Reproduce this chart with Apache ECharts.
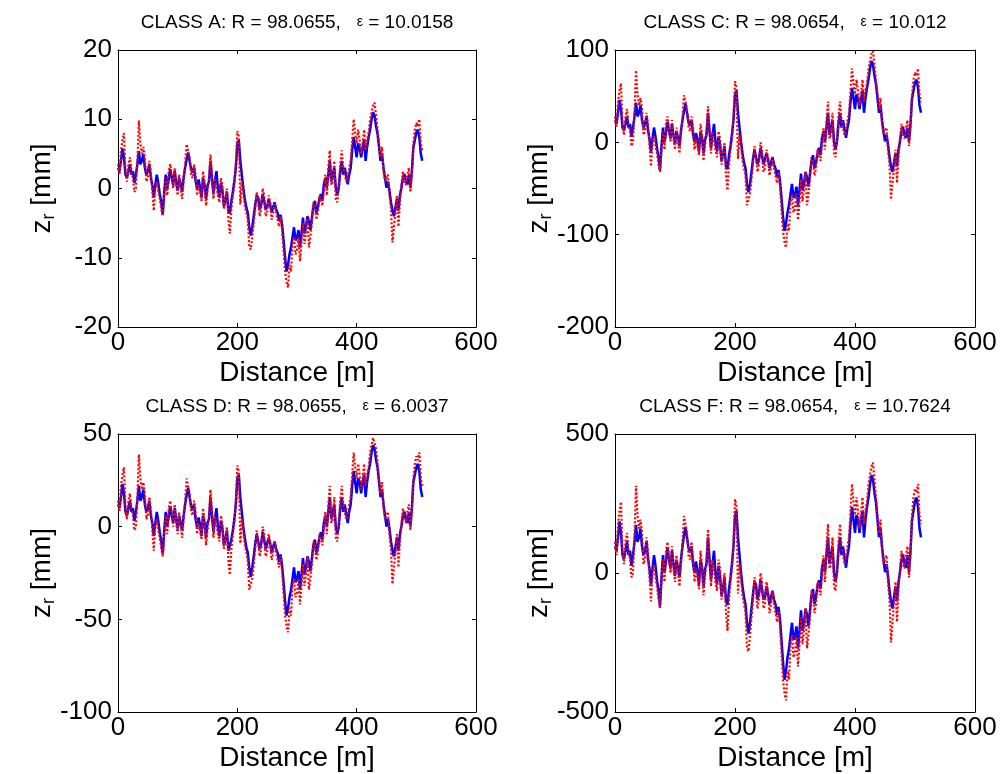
<!DOCTYPE html>
<html>
<head>
<meta charset="utf-8">
<title>Road profile classes</title>
<script src="https://cdn.jsdelivr.net/npm/echarts@6.0.0/dist/echarts.min.js"></script>
<style>
html, body { margin: 0; padding: 0; background: #fff; }
#main { width: 1000px; height: 774px; }
</style>
</head>
<body>
<div id="main"></div>
<script>
// distance along the road [m]
var dist = [0, 5, 10, 15, 20, 25, 30, 35, 40, 45,
    50, 55, 60, 65, 70, 75, 80, 85, 90, 95,
    100, 105, 110, 115, 120, 125, 130, 135, 140, 145,
    150, 155, 160, 165, 170, 175, 180, 185, 190, 195,
    200, 205, 210, 215, 220, 225, 230, 235, 240, 245,
    250, 255, 260, 265, 270, 275, 280, 285, 290, 295,
    300, 305, 310, 315, 320, 325, 330, 335, 340, 345,
    350, 355, 360, 365, 370, 375, 380, 385, 390, 395,
    400, 405, 410, 415, 420, 425, 430, 435, 440, 445,
    450, 455, 460, 465, 470, 475, 480, 485, 490, 495,
    500, 505, 510];
// in-between samples
var distMid = [2.5, 7.5, 12.5, 17.5, 22.5, 27.5, 32.5, 37.5, 42.5, 47.5,
    52.5, 57.5, 62.5, 67.5, 72.5, 77.5, 82.5, 87.5, 92.5, 97.5,
    102.5, 107.5, 112.5, 117.5, 122.5, 127.5, 132.5, 137.5, 142.5, 147.5,
    152.5, 157.5, 162.5, 167.5, 172.5, 177.5, 182.5, 187.5, 192.5, 197.5,
    202.5, 207.5, 212.5, 217.5, 222.5, 227.5, 232.5, 237.5, 242.5, 247.5,
    252.5, 257.5, 262.5, 267.5, 272.5, 277.5, 282.5, 287.5, 292.5, 297.5,
    302.5, 307.5, 312.5, 317.5, 322.5, 327.5, 332.5, 337.5, 342.5, 347.5,
    352.5, 357.5, 362.5, 367.5, 372.5, 377.5, 382.5, 387.5, 392.5, 397.5,
    402.5, 407.5, 412.5, 417.5, 422.5, 427.5, 432.5, 437.5, 442.5, 447.5,
    452.5, 457.5, 462.5, 467.5, 472.5, 477.5, 482.5, 487.5, 492.5, 497.5,
    502.5, 507.5];

// CLASS A  (blue = solid, red = dotted)
var blueA = [3.0, 4.0, 4.5, 1.6, 3.5, 2.5, 2.0, 5.4, 4.0, 3.0,
    2.5, 1.6, -1.3, 2.0, -0.8, -3.7, 2.0, 1.3, 1.6, 2.5,
    -0.3, 0.6, 1.6, 4.2, 4.0, 2.3, 1.1, 1.3, -1.3, 0.6,
    0.4, 4.0, -0.8, 2.5, -1.3, -0.3, -1.8, -3.2, -1.8, 1.1,
    6.4, 4.0, 0.1, -2.7, -5.6, -5.6, -2.3, -1.3, -2.3, -1.8,
    -2.7, -2.3, -2.7, -3.0, -4.7, -5.2, -10, -11, -8.5, -5.6,
    -7.1, -8.5, -4.2, -5.6, -4.7, -4.2, -1.8, -2.7, -0.8, 0.6,
    0.1, 4.0, 2.1, 0.1, 0.1, 4.0, 3.0, 0.6, 3.0, 7.4,
    4.5, 5.9, 5.9, 4.0, 7.4, 10.0, 10.5, 7.9, 4.0, 3.0,
    0.1, -0.3, -3.2, -2.7, -3.2, 0.1, 2.1, 0.6, 0.1, 5.9,
    8.1, 7.4, 4.0];
var blueAmid = [2.5, 5.8, 2.0, 2.5, 2.0, 0.8, 3.5, 3.5, 5.0, 2.0,
    3.5, 0.5, 0.5, 0.8, -2.0, -0.5, 0.0, 2.8, 0.5, 1.0,
    1.5, -0.5, 3.0, 5.2, 2.8, 3.0, 0.0, 0.2, 1.5, -1.5,
    1.0, 1.5, 1.0, 0.0, 0.8, -2.5, -0.5, -3.6, -0.5, 3.0,
    7.0, 2.0, -1.5, -3.5, -6.8, -4.0, -1.0, -3.0, -0.8, -3.0,
    -1.5, -3.5, -2.0, -3.5, -3.8, -7.5, -12, -9.5, -7.0, -7.5,
    -6.0, -6.5, -6.5, -4.0, -6.0, -2.5, -3.5, -1.5, -1.8, 1.5,
    2.0, 1.0, 3.0, -1.0, 2.5, 2.0, 1.8, 2.0, 5.5, 6.0,
    6.5, 4.5, 7.0, 6.0, 8.5, 11.0, 9.0, 6.0, 5.0, 1.5,
    1.0, -2.0, -4.0, -1.5, -1.0, 1.5, 1.0, 2.0, 2.5, 7.0,
    8.5, 5.0];
var redA = [3.5, 5.5, 8.0, 1.0, 4.5, 1.5, 0.0, 9.8, 5.0, 4.5,
    1.5, 2.5, -3.2, 1.0, -1.5, -4.0, 1.5, 2.5, 2.0, 3.0,
    -1.0, 0.0, 1.0, 6.4, 4.5, 1.5, 2.0, 0.5, -1.8, 1.0,
    -0.5, 4.9, -1.5, 1.5, -2.0, 0.5, -1.5, -4.5, -3.0, 0.5,
    8.3, -2.3, -0.5, -3.5, -8.5, -7.0, -3.0, -0.5, -3.0, -1.0,
    -3.5, -2.0, -3.5, -3.5, -5.5, -6.0, -12, -14.3, -12, -7.0,
    -9.0, -10.5, -5.0, -6.5, -8.5, -5.0, -2.5, -3.5, -1.0, -0.5,
    -1.0, 5.5, 1.0, -1.5, 0.5, 5.5, 2.0, 1.5, 4.0, 10.0,
    6.5, 7.0, 6.5, 5.5, 8.0, 11.0, 12.4, 8.5, 4.5, 2.5,
    1.0, -1.0, -7.8, -3.5, -5.5, 0.5, 1.0, 2.0, -0.5, 6.5,
    9.5, 10.0, 5.5];
var redAmid = [2.0, 7.0, 2.5, 3.5, 2.5, -0.5, 4.0, 6.5, 6.0, 1.0,
    4.0, -0.5, 0.0, -0.5, -3.0, -1.0, -1.0, 3.5, 0.0, 0.5,
    2.0, -1.5, 3.5, 5.5, 2.0, 3.5, -1.0, -0.5, 2.5, -2.5,
    1.5, 2.0, 1.5, -1.0, 1.5, -3.0, 0.0, -6.5, -1.0, 3.5,
    7.5, 1.0, -2.5, -4.5, -8.8, -5.0, -0.5, -4.0, 0.0, -4.0,
    -1.0, -4.5, -2.0, -4.5, -4.0, -9.0, -13.5, -11, -8.0, -9.5,
    -7.0, -8.0, -8.0, -4.0, -7.0, -2.0, -4.5, -1.0, -2.5, 2.0,
    3.0, 0.5, 4.0, -2.0, 3.5, 3.0, 1.0, 3.0, 7.0, 8.0,
    8.5, 5.0, 8.5, 7.0, 10.0, 12.0, 10.5, 6.5, 6.0, 1.0,
    2.0, -3.0, -5.5, -1.0, -2.0, 2.5, 0.5, 3.0, 2.0, 8.5,
    9.0, 6.5];

// CLASS C
var blueC = [24, 32, 36, 13, 28, 20, 16, 43, 32, 24,
    20, 13, -10, 16, -6, -30, 16, 10, 13, 20,
    -2, 5, 13, 34, 32, 18, 9, 10, -10, 5,
    3, 32, -6, 20, -10, -2, -14, -26, -14, 9,
    51, 32, 1, -22, -45, -45, -18, -10, -18, -14,
    -22, -18, -22, -24, -38, -42, -80, -88, -68, -45,
    -57, -68, -34, -45, -38, -34, -14, -22, -6, 5,
    1, 32, 17, 1, 1, 32, 24, 5, 24, 59,
    36, 47, 47, 32, 59, 80, 84, 63, 32, 24,
    1, -2, -26, -22, -26, 1, 17, 5, 1, 47,
    65, 59, 32];
var blueCmid = [20, 46, 16, 20, 16, 6, 28, 28, 40, 16,
    28, 4, 4, 6, -16, -4, 0, 22, 4, 8,
    12, -4, 24, 42, 22, 24, 0, 2, 12, -12,
    8, 12, 8, 0, 6, -20, -4, -29, -4, 24,
    56, 16, -12, -28, -54, -32, -8, -24, -6, -24,
    -12, -28, -16, -28, -30, -60, -96, -76, -56, -60,
    -48, -52, -52, -32, -48, -20, -28, -12, -14, 12,
    16, 8, 24, -8, 20, 16, 14, 16, 44, 48,
    52, 36, 56, 48, 68, 88, 72, 48, 40, 12,
    8, -16, -32, -12, -8, 12, 8, 16, 20, 56,
    68, 40];
var redC = [28, 44, 64, 8, 36, 12, 0, 78, 40, 36,
    12, 20, -26, 8, -12, -32, 12, 20, 16, 24,
    -8, 0, 8, 51, 36, 12, 16, 4, -14, 8,
    -4, 39, -12, 12, -16, 4, -12, -36, -24, 4,
    66, -18, -4, -28, -68, -56, -24, -4, -24, -8,
    -28, -16, -28, -28, -44, -48, -96, -114, -96, -56,
    -72, -84, -40, -52, -68, -40, -20, -28, -8, -4,
    -8, 44, 8, -12, 4, 44, 16, 12, 32, 80,
    52, 56, 52, 44, 64, 88, 99, 68, 36, 20,
    8, -8, -62, -28, -44, 4, 8, 16, -4, 52,
    76, 80, 44];
var redCmid = [16, 56, 20, 28, 20, -4, 32, 52, 48, 8,
    32, -4, 0, -4, -24, -8, -8, 28, 0, 4,
    16, -12, 28, 44, 16, 28, -8, -4, 20, -20,
    12, 16, 12, -8, 12, -24, 0, -52, -8, 28,
    60, 8, -20, -36, -70, -40, -4, -32, 0, -32,
    -8, -36, -16, -36, -32, -72, -108, -88, -64, -76,
    -56, -64, -64, -32, -56, -16, -36, -8, -20, 16,
    24, 4, 32, -16, 28, 24, 8, 24, 56, 64,
    68, 40, 68, 56, 80, 96, 84, 52, 48, 8,
    16, -24, -44, -8, -16, 20, 4, 24, 16, 68,
    72, 52];

// CLASS D
var blueD = [12, 16, 18, 6, 14, 10, 8, 22, 16, 12,
    10, 6, -5, 8, -3, -15, 8, 5, 6, 10,
    -1, 2, 6, 17, 16, 9, 4, 5, -5, 2,
    2, 16, -3, 10, -5, -1, -7, -13, -7, 4,
    26, 16, 0, -11, -22, -22, -9, -5, -9, -7,
    -11, -9, -11, -12, -19, -21, -40, -44, -34, -22,
    -28, -34, -17, -22, -19, -17, -7, -11, -3, 2,
    0, 16, 8, 0, 0, 16, 12, 2, 12, 30,
    18, 24, 24, 16, 30, 40, 42, 32, 16, 12,
    0, -1, -13, -11, -13, 0, 8, 2, 0, 24,
    32, 30, 16];
var blueDmid = [10, 23, 8, 10, 8, 3, 14, 14, 20, 8,
    14, 2, 2, 3, -8, -2, 0, 11, 2, 4,
    6, -2, 12, 21, 11, 12, 0, 1, 6, -6,
    4, 6, 4, 0, 3, -10, -2, -14, -2, 12,
    28, 8, -6, -14, -27, -16, -4, -12, -3, -12,
    -6, -14, -8, -14, -15, -30, -48, -38, -28, -30,
    -24, -26, -26, -16, -24, -10, -14, -6, -7, 6,
    8, 4, 12, -4, 10, 8, 7, 8, 22, 24,
    26, 18, 28, 24, 34, 44, 36, 24, 20, 6,
    4, -8, -16, -6, -4, 6, 4, 8, 10, 28,
    34, 20];
var redD = [14, 22, 32, 4, 18, 6, 0, 39, 20, 18,
    6, 10, -13, 4, -6, -16, 6, 10, 8, 12,
    -4, 0, 4, 26, 18, 6, 8, 2, -7, 4,
    -2, 20, -6, 6, -8, 2, -6, -18, -12, 2,
    33, -9, -2, -14, -34, -28, -12, -2, -12, -4,
    -14, -8, -14, -14, -22, -24, -48, -57, -48, -28,
    -36, -42, -20, -26, -34, -20, -10, -14, -4, -2,
    -4, 22, 4, -6, 2, 22, 8, 6, 16, 40,
    26, 28, 26, 22, 32, 44, 49, 34, 18, 10,
    4, -4, -31, -14, -22, 2, 4, 8, -2, 26,
    38, 40, 22];
var redDmid = [8, 28, 10, 14, 10, -2, 16, 26, 24, 4,
    16, -2, 0, -2, -12, -4, -4, 14, 0, 2,
    8, -6, 14, 22, 8, 14, -4, -2, 10, -10,
    6, 8, 6, -4, 6, -12, 0, -26, -4, 14,
    30, 4, -10, -18, -35, -20, -2, -16, 0, -16,
    -4, -18, -8, -18, -16, -36, -54, -44, -32, -38,
    -28, -32, -32, -16, -28, -8, -18, -4, -10, 8,
    12, 2, 16, -8, 14, 12, 4, 12, 28, 32,
    34, 20, 34, 28, 40, 48, 42, 26, 24, 4,
    8, -12, -22, -4, -8, 10, 2, 12, 8, 34,
    36, 26];

// CLASS F
var blueF = [96, 128, 144, 51, 112, 80, 64, 173, 128, 96,
    80, 51, -42, 64, -26, -118, 64, 42, 51, 80,
    -10, 19, 51, 134, 128, 74, 35, 42, -42, 19,
    13, 128, -26, 80, -42, -10, -58, -102, -58, 35,
    205, 128, 3, -86, -179, -179, -74, -42, -74, -58,
    -86, -74, -86, -96, -150, -166, -320, -352, -272, -179,
    -227, -272, -134, -179, -150, -134, -58, -86, -26, 19,
    3, 128, 67, 3, 3, 128, 96, 19, 96, 237,
    144, 189, 189, 128, 237, 320, 336, 253, 128, 96,
    3, -10, -102, -86, -102, 3, 67, 19, 3, 189,
    259, 237, 128];
var blueFmid = [80, 186, 64, 80, 64, 26, 112, 112, 160, 64,
    112, 16, 16, 26, -64, -16, 0, 90, 16, 32,
    48, -16, 96, 166, 90, 96, 0, 6, 48, -48,
    32, 48, 32, 0, 26, -80, -16, -115, -16, 96,
    224, 64, -48, -112, -218, -128, -32, -96, -26, -96,
    -48, -112, -64, -112, -122, -240, -384, -304, -224, -240,
    -192, -208, -208, -128, -192, -80, -112, -48, -58, 48,
    64, 32, 96, -32, 80, 64, 58, 64, 176, 192,
    208, 144, 224, 192, 272, 352, 288, 192, 160, 48,
    32, -64, -128, -48, -32, 48, 32, 64, 80, 224,
    272, 160];
var redF = [112, 176, 256, 32, 144, 48, 0, 314, 160, 144,
    48, 80, -102, 32, -48, -128, 48, 80, 64, 96,
    -32, 0, 32, 205, 144, 48, 64, 16, -58, 32,
    -16, 157, -48, 48, -64, 16, -48, -144, -96, 16,
    266, -74, -16, -112, -272, -224, -96, -16, -96, -32,
    -112, -64, -112, -112, -176, -192, -384, -458, -384, -224,
    -288, -336, -160, -208, -272, -160, -80, -112, -32, -16,
    -32, 176, 32, -48, 16, 176, 64, 48, 128, 320,
    208, 224, 208, 176, 256, 352, 397, 272, 144, 80,
    32, -32, -250, -112, -176, 16, 32, 64, -16, 208,
    304, 320, 176];
var redFmid = [64, 224, 80, 112, 80, -16, 128, 208, 192, 32,
    128, -16, 0, -16, -96, -32, -32, 112, 0, 16,
    64, -48, 112, 176, 64, 112, -32, -16, 80, -80,
    48, 64, 48, -32, 48, -96, 0, -208, -32, 112,
    240, 32, -80, -144, -282, -160, -16, -128, 0, -128,
    -32, -144, -64, -144, -128, -288, -432, -352, -256, -304,
    -224, -256, -256, -128, -224, -64, -144, -32, -80, 64,
    96, 16, 128, -64, 112, 96, 32, 96, 224, 256,
    272, 160, 272, 224, 320, 384, 336, 208, 192, 32,
    64, -96, -176, -32, -64, 80, 16, 96, 64, 272,
    288, 208];

// tick labels
var xTicks = [0, 200, 400, 600];
var yTicksA = [-20, -10, 0, 10, 20];
var yTicksC = [-200, -100, 0, 100];
var yTicksD = [-100, -50, 0, 50];
var yTicksF = [-500, 0, 500];

var titleA = 'CLASS A: R = 98.0655,   {e|ε} = 10.0158';
var titleC = 'CLASS C: R = 98.0654,   {e|ε} = 10.012';
var titleD = 'CLASS D: R = 98.0655,   {e|ε} = 6.0037';
var titleF = 'CLASS F: R = 98.0654,   {e|ε} = 10.7624';

var FONT = '"Liberation Sans", Arial, Helvetica, sans-serif';

var panels = [
    {title: titleA, blue: blueA, blueMid: blueAmid, red: redA, redMid: redAmid, yTicks: yTicksA, left: 118, top: 50, width: 358, height: 277},
    {title: titleC, blue: blueC, blueMid: blueCmid, red: redC, redMid: redCmid, yTicks: yTicksC, left: 615, top: 50, width: 360, height: 277},
    {title: titleD, blue: blueD, blueMid: blueDmid, red: redD, redMid: redDmid, yTicks: yTicksD, left: 118, top: 434, width: 358, height: 278},
    {title: titleF, blue: blueF, blueMid: blueFmid, red: redF, redMid: redFmid, yTicks: yTicksF, left: 615, top: 434, width: 360, height: 278}
];

// interleave the 5 m samples with the in-between ones
function toPairs(ys, mids) {
    var out = [];
    for (var i = 0; i < ys.length; i++) {
        out.push([dist[i], ys[i]]);
        if (i < mids.length) {
            out.push([distMid[i], mids[i]]);
        }
    }
    return out;
}

var myChart = echarts.init(document.getElementById('main'));

var grids = [], xAxes = [], yAxes = [], series = [], titles = [], graphics = [];
var axisColor = '#000';

for (var i = 0; i < panels.length; i++) {
    var p = panels[i];
    var yt = p.yTicks;
    grids.push({
        left: p.left, top: p.top, width: p.width, height: p.height,
        containLabel: false, outerBoundsMode: 'none'
    });
    // bottom x axis
    xAxes.push({
        gridIndex: i, type: 'value', position: 'bottom',
        min: xTicks[0], max: xTicks[xTicks.length - 1], interval: xTicks[1] - xTicks[0],
        axisLine: {show: true, onZero: false, lineStyle: {color: axisColor, width: 1}},
        axisTick: {show: true, inside: true, length: 4, lineStyle: {color: axisColor}},
        axisLabel: {margin: 3, fontSize: 26, color: '#000', fontFamily: FONT},
        splitLine: {show: false},
        name: 'Distance [m]', nameLocation: 'middle', nameGap: 32,
        nameTextStyle: {fontSize: 28, color: '#000', fontFamily: FONT}
    });
    // top x axis (box)
    xAxes.push({
        gridIndex: i, type: 'value', position: 'top',
        min: xTicks[0], max: xTicks[xTicks.length - 1], interval: xTicks[1] - xTicks[0],
        axisLine: {show: true, onZero: false, lineStyle: {color: axisColor, width: 1}},
        axisTick: {show: true, inside: true, length: 4, lineStyle: {color: axisColor}},
        axisLabel: {show: false},
        splitLine: {show: false}
    });
    // left y axis
    yAxes.push({
        gridIndex: i, type: 'value', position: 'left',
        min: yt[0], max: yt[yt.length - 1], interval: yt[1] - yt[0],
        axisLine: {show: true, onZero: false, lineStyle: {color: axisColor, width: 1}},
        axisTick: {show: true, inside: true, length: 4, lineStyle: {color: axisColor}},
        axisLabel: {margin: 6, fontSize: 26, color: '#000', fontFamily: FONT},
        splitLine: {show: false}
    });
    // right y axis (box)
    yAxes.push({
        gridIndex: i, type: 'value', position: 'right',
        min: yt[0], max: yt[yt.length - 1], interval: yt[1] - yt[0],
        axisLine: {show: true, onZero: false, lineStyle: {color: axisColor, width: 1}},
        axisTick: {show: true, inside: true, length: 4, lineStyle: {color: axisColor}},
        axisLabel: {show: false},
        splitLine: {show: false}
    });

    series.push({
        type: 'line', xAxisIndex: 2 * i, yAxisIndex: 2 * i,
        data: toPairs(p.blue, p.blueMid), showSymbol: false, silent: true,
        lineStyle: {color: '#0000ff', width: 2.5}
    });
    series.push({
        type: 'line', xAxisIndex: 2 * i, yAxisIndex: 2 * i,
        data: toPairs(p.red, p.redMid), showSymbol: false, silent: true,
        lineStyle: {color: '#ff0000', width: 2.2, type: [2, 2]}
    });

    titles.push({
        text: p.title, left: p.left + p.width / 2, top: p.top - 37,
        textAlign: 'center', padding: 0,
        textStyle: {fontSize: 19, fontWeight: 'normal', color: '#000', fontFamily: FONT,
            rich: {e: {fontSize: 14, color: '#000', fontFamily: FONT}}}
    });

    // z_r [mm]
    graphics.push({
        type: 'text', x: p.left - 76, y: p.top + p.height / 2, rotation: Math.PI / 2,
        style: {
            text: '{z|z}{r|r}{m| [mm]}', align: 'center', verticalAlign: 'middle',
            fill: '#000', fontFamily: FONT, fontSize: 28,
            rich: {
                z: {fontSize: 28, lineHeight: 32, fontFamily: FONT, fill: '#000'},
                r: {fontSize: 18, lineHeight: 12, verticalAlign: 'bottom', fontFamily: FONT, fill: '#000'},
                m: {fontSize: 28, lineHeight: 32, fontFamily: FONT, fill: '#000'}
            }
        }
    });
}

var option = {
    backgroundColor: '#fff',
    animation: false,
    title: titles,
    grid: grids,
    xAxis: xAxes,
    yAxis: yAxes,
    series: series,
    graphic: graphics
};
myChart.setOption(option);
</script>
</body>
</html>
